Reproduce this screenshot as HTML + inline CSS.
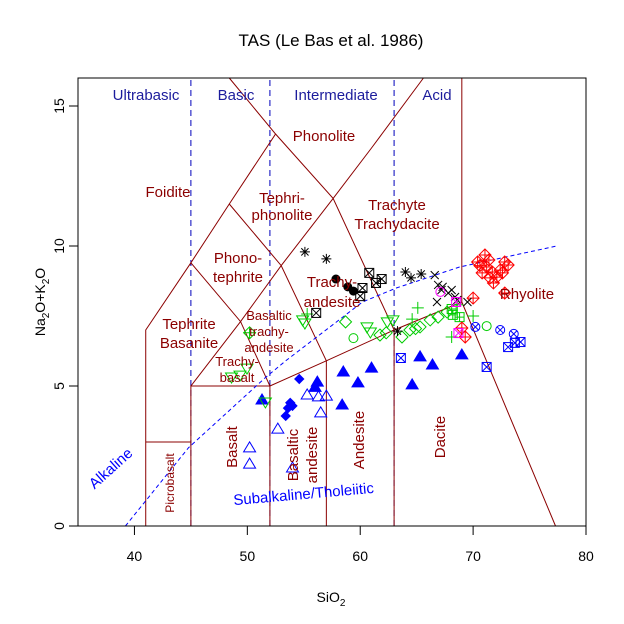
<!DOCTYPE html>
<html><head><meta charset="utf-8"><style>
html,body{margin:0;padding:0;background:#fff}
svg{display:block;font-family:"Liberation Sans",Arial,sans-serif}
</style></head><body>
<svg id="chart" width="624" height="624" viewBox="0 0 624 624">
<text x="331" y="46" text-anchor="middle" font-size="17">TAS (Le Bas et al. 1986)</text>
<g id="grid"></g><g id="marks"></g><g id="labels"></g>
<rect x="78" y="78" width="508" height="448" fill="none" stroke="#000" stroke-width="1"/>
<g id="axes"></g>
<text x="331" y="602" text-anchor="middle" font-size="14">SiO<tspan font-size="10" dy="4">2</tspan></text>
<text transform="translate(45,302) rotate(-90)" text-anchor="middle" font-size="14">Na<tspan font-size="10" dy="4">2</tspan><tspan dy="-4">O+K</tspan><tspan font-size="10" dy="4">2</tspan><tspan dy="-4">O</tspan></text>
</svg>
<script>
const xTicks=[40,50,60,70,80];
const yTicks=[0,5,10,15];
const blackStarX=[55.1,57.0,64.0,64.5,65.4,63.3];
const blackStarY=[9.79,9.54,9.07,8.86,9.0,6.96];
const blackDotX=[57.85,58.9,59.4];
const blackDotY=[8.82,8.54,8.39];
const blackBoxX=[60.8,61.9,61.4,60.2,60.0,56.1];
const blackBoxY=[9.04,8.82,8.68,8.5,8.21,7.61];
const blackCrossX=[66.6,66.9,67.3,67.2,67.8,68.1,68.4,66.8,69.5,68.6];
const blackCrossY=[8.96,8.61,8.54,8.43,8.32,8.43,8.18,8.0,8.0,8.07];
const magCircX=[67.1];const magCircY=[8.36];
const magBoxX=[68.5,68.7];const magBoxY=[8.0,6.89];
const redDiaX=[71.05,70.4,71.2,71.7,72.1,71.8,72.8,73.1,72.4,71.5,70.0,69.0,69.3,72.8,70.8,72.6,70.6,71.4];
const redDiaY=[9.68,9.43,9.25,9.07,8.89,8.68,9.43,9.32,9.14,8.86,8.14,7.07,6.75,8.32,9.04,9.04,9.3,9.5];
const blueCircXX=[70.2,72.4,73.6];const blueCircXY=[7.11,7.0,6.86];
const blueBoxX=[74.2,73.7,73.1,71.2,63.6];const blueBoxY=[6.57,6.54,6.39,5.68,6.0];
const greenCircX=[71.2,59.4];const greenCircY=[7.14,6.71];
const greenPlusX=[70.0,68.1,65.1,64.6,55.3,68.6];const greenPlusY=[7.5,6.75,7.79,7.39,7.57,7.9];
const greenBoxX=[68.2,68.8,68.1];const greenBoxY=[7.54,7.46,7.75];
const greenDiaX=[58.7,61.75,63.7,64.4,65.3,66.2,66.9,67.7,62.3,64.9];
const greenDiaY=[7.29,6.82,6.75,7.0,7.11,7.36,7.46,7.64,6.9,7.05];
const greenTriX=[55.1,60.6,60.9,62.4,62.9,48.6,49.35,49.97,51.6,54.9];
const greenTriY=[7.25,7.11,6.93,7.29,7.36,5.32,5.39,5.64,4.43,7.36];
const greenDiaPlusX=[50.2];const greenDiaPlusY=[6.9];
const blueTriFX=[58.5,61.0,59.8,58.4,56.2,65.3,66.4,64.6,51.3,69.0,56.0];
const blueTriFY=[5.5,5.64,5.11,4.32,5.14,6.04,5.75,5.04,4.5,6.11,4.95];
const blueDiaX=[54.6,53.6,54.0,53.4,53.8];const blueDiaY=[5.25,4.21,4.29,3.93,4.4];
const blueTriOX=[55.3,56.3,57.0,56.5,52.7,50.2,50.2,54.0];
const blueTriOY=[4.68,4.61,4.64,4.04,3.46,2.79,2.21,2.07];
const fieldLines=[
[[41,0],[41,7],[45,9.4],[48.4,11.5],[52.5,14],[48.4,16]],
[[41,3],[45,3]],[[45,0],[45,5],[52,5],[52,0]],
[[45,5],[49.4,7.3],[53,9.3],[57.6,11.7],[61,13.5],[65.6,16]],
[[45,9.4],[49.4,7.3],[52,5]],[[48.4,11.5],[53,9.3],[57,5.9]],
[[52.5,14],[57.6,11.7],[63,7]],[[52,5],[57,5.9],[63,7],[69,8]],
[[57,0],[57,5.9]],[[63,0],[63,7]],[[69,16],[69,8],[77.3,0]]];
const alkX=[39.2,44.8,51.6,53.4,60.2,63.2,68.8,77.4];
const alkY=[0,2.8,5.3,5.9,8.0,8.5,9.25,10];
const X=x=>78+(x-35)*508/45, Y=y=>526-28*y;
const NS='http://www.w3.org/2000/svg';
function mk(p,t,a){const e=document.createElementNS(NS,t);for(const k in a)e.setAttribute(k,a[k]);p.appendChild(e);return e;}
const grid=document.getElementById('grid'),marks=document.getElementById('marks'),axes=document.getElementById('axes'),labels=document.getElementById('labels');
[45,52,63].forEach(v=>{const l=mk(grid,'line',{x1:X(v),x2:X(v),y1:Y(0),y2:78,stroke:'#0000bb','stroke-dasharray':'6,4'});

});
fieldLines.forEach(pl=>{const p=mk(grid,'polyline',{points:pl.map(q=>X(q[0])+','+Y(q[1])).join(' '),fill:'none',stroke:'#8b0000','stroke-width':1});

});
const ac=mk(grid,'polyline',{points:alkX.map((v,i)=>X(v)+','+Y(alkY[i])).join(' '),fill:'none',stroke:'#0000ff','stroke-dasharray':'4,3'});


xTicks.forEach(v=>{mk(axes,'line',{x1:X(v),x2:X(v),y1:526,y2:535,stroke:'#000'});
const t=mk(axes,'text',{x:X(v),y:561,'text-anchor':'middle','font-size':14});t.textContent=v;

});
yTicks.forEach(v=>{mk(axes,'line',{x1:69,x2:78,y1:Y(v),y2:Y(v),stroke:'#000'});
const t=mk(axes,'text',{transform:`translate(64,${Y(v)}) rotate(-90)`,'text-anchor':'middle','font-size':14});t.textContent=v;

});
function sym(type,c,x,y){const g=mk(marks,'g',{stroke:c,fill:'none','stroke-width':1,transform:`translate(${X(x)},${Y(y)})`});


const r=4.5;
if(type==='star'){mk(g,'path',{d:`M-5,0H5M0,-5V5M-3.6,-3.6L3.6,3.6M-3.6,3.6L3.6,-3.6`});}
else if(type==='dot'){mk(g,'circle',{r:4.5,fill:c,stroke:'none'});}
else if(type==='boxx'){mk(g,'rect',{x:-r,y:-r,width:2*r,height:2*r});mk(g,'path',{d:`M-${r},-${r}L${r},${r}M-${r},${r}L${r},-${r}`});}
else if(type==='boxp'){mk(g,'rect',{x:-r,y:-r,width:2*r,height:2*r});mk(g,'path',{d:`M-${r},0H${r}M0,-${r}V${r}`});}
else if(type==='cross'){mk(g,'path',{d:'M-4,-4L4,4M-4,4L4,-4'});}
else if(type==='circ'){mk(g,'circle',{r:4.5});}
else if(type==='circx'){mk(g,'circle',{r:4.5});mk(g,'path',{d:'M-3.2,-3.2L3.2,3.2M-3.2,3.2L3.2,-3.2'});}
else if(type==='plus'){mk(g,'path',{d:'M-6,0H6M0,-6V6'});}
else if(type==='dia'){mk(g,'path',{d:'M0,-6L6,0L0,6L-6,0Z'});}
else if(type==='diap'){mk(g,'path',{d:'M0,-6L6,0L0,6L-6,0ZM-6,0H6M0,-6V6'});}
else if(type==='trid'){mk(g,'path',{d:'M-6,-4H6L0,6Z'});}
else if(type==='triu'){mk(g,'path',{d:'M-6,4H6L0,-6Z'});}
else if(type==='triuf'){mk(g,'path',{d:'M-6,4H6L0,-6Z',fill:c});}
else if(type==='diaf'){mk(g,'path',{d:'M0,-4.5L4.5,0L0,4.5L-4.5,0Z',fill:c});}
}
function series(type,c,xs,ys){xs.forEach((v,i)=>sym(type,c,v,ys[i]));}
series('triu','#0000ff',blueTriOX,blueTriOY);
series('diaf','#0000ff',blueDiaX,blueDiaY);
series('triuf','#0000ff',blueTriFX,blueTriFY);
series('dia','#00cc00',greenDiaX,greenDiaY);
series('trid','#00cc00',greenTriX,greenTriY);
series('diap','#00cc00',greenDiaPlusX,greenDiaPlusY);
series('circ','#00cc00',greenCircX,greenCircY);
series('plus','#00cc00',greenPlusX,greenPlusY);
series('boxp','#00cc00',greenBoxX,greenBoxY);
series('circx','#0000ff',blueCircXX,blueCircXY);
series('boxx','#0000ff',blueBoxX,blueBoxY);
series('diap','#ff0000',redDiaX,redDiaY);
series('cross','#000',blackCrossX,blackCrossY);
series('star','#000',blackStarX,blackStarY);
series('dot','#000',blackDotX,blackDotY);
series('boxx','#000',blackBoxX,blackBoxY);
series('circ','#ff00ff',magCircX,magCircY);
series('boxx','#ff00ff',magBoxX,magBoxY);
const R='#8b0000',B='#1c1c9c';
const labs=[
['Ultrabasic',146,100,15,B],['Basic',236,100,15,B],['Intermediate',336,100,15,B],['Acid',437,100,15,B],
['Phonolite',324,141,15,R],['Foidite',168,197,15,R],['Tephri-',282,203,15,R],['phonolite',282,220,15,R],
['Phono-',238,263,15,R],['tephrite',238,282,15,R],['Trachyte',397,210,15,R],['Trachydacite',397,229,15,R],
['Trachy-',332,287,15,R],['andesite',332,307,15,R],['Tephrite',189,329,15,R],['Basanite',189,348,15,R],
['Basaltic',269,320,13,R],['trachy-',269,336,13,R],['andesite',269,352,13,R],['Trachy-',237,366,13,R],['basalt',237,382,13,R],
['Rhyolite',527,299,15,R]];
labs.forEach(l=>{const t=mk(labels,'text',{x:l[1],y:l[2],'text-anchor':'middle','font-size':l[3],fill:l[4]});t.textContent=l[0];

});
const rot=[['Picrobasalt',174,483,12,R,-90],['Basalt',237,447,15,R,-90],['Basaltic',298,455,15,R,-90],['andesite',317,455,15,R,-90],
['Andesite',364,440,15,R,-90],['Dacite',445,437,15,R,-90],['Alkaline',114,472,15,'#0000ff',-42],['Subalkaline/Tholeiitic',304,499,15,'#0000ff',-5]];
rot.forEach(l=>{const t=mk(labels,'text',{transform:`translate(${l[1]},${l[2]}) rotate(${l[5]})`,'text-anchor':'middle','font-size':l[3],fill:l[4]});t.textContent=l[0];

});
</script>
</body></html>
